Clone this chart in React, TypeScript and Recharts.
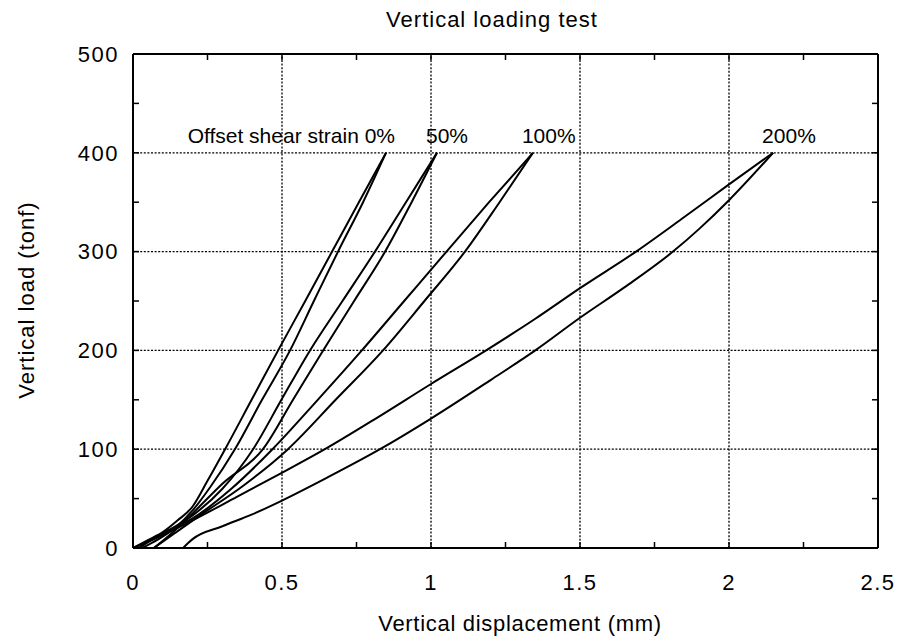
import React from 'react';
import { LineChart, Line, XAxis, YAxis, ReferenceLine, ReferenceDot, Label } from 'recharts';

const FONT = '"Liberation Sans", Arial, Helvetica, sans-serif';

const xTicks = [0, 0.25, 0.5, 0.75, 1, 1.25, 1.5, 1.75, 2, 2.25, 2.5];
const yTicks = [0, 50, 100, 150, 200, 250, 300, 350, 400, 450, 500];
const xGrid = [0.5, 1, 1.5, 2];
const yGrid = [100, 200, 300, 400];

// loading branch (lower / right side of each loop), origin -> 400 tonf
const load0: [number, number][] = [
  [0.03, 0], [0.08, 8], [0.14, 20], [0.2, 38], [0.26, 62], [0.342, 100], [0.433, 150],
  [0.527, 200], [0.607, 250], [0.688, 300], [0.772, 350], [0.849, 400],
];
// unloading branch (upper / left side), 400 tonf -> origin
const unload0: [number, number][] = [
  [0.849, 400], [0.758, 350], [0.668, 300], [0.578, 250], [0.487, 200], [0.398, 150],
  [0.309, 100], [0.25, 68], [0.2, 42], [0.15, 28], [0.1, 16], [0.05, 8], [0, 0],
];
const load50: [number, number][] = [
  [0.07, 0], [0.13, 15], [0.2, 35], [0.3, 65], [0.436, 100], [0.537, 150], [0.638, 200],
  [0.742, 250], [0.846, 300], [0.935, 350], [1.02, 400],
];
const unload50: [number, number][] = [
  [1.02, 400], [0.916, 350], [0.812, 300], [0.703, 250], [0.594, 200], [0.498, 150],
  [0.403, 100], [0.3, 60], [0.2, 33], [0.12, 18], [0.05, 7], [0, 0],
];
const load100: [number, number][] = [
  [0.07, 0], [0.14, 15], [0.22, 32], [0.37, 63], [0.52, 100], [0.68, 150], [0.839, 200],
  [0.978, 250], [1.114, 300], [1.23, 350], [1.342, 400],
];
const unload100: [number, number][] = [
  [1.342, 400], [1.195, 350], [1.052, 300], [0.91, 250], [0.768, 200], [0.62, 150],
  [0.468, 100], [0.33, 60], [0.2, 30], [0.12, 18], [0.05, 6], [0.02, 0],
];
const load200: [number, number][] = [
  [0.168, 0], [0.185, 5], [0.2, 9], [0.3, 22], [0.4, 34], [0.493, 47], [0.65, 71],
  [0.829, 100], [1.0, 131], [1.2, 170], [1.35, 200], [1.5, 233], [1.65, 264],
  [1.812, 300], [1.9, 323], [2.0, 352], [2.148, 400],
];
const unload200: [number, number][] = [
  [2.148, 400], [2.0, 368], [1.85, 335], [1.688, 300], [1.5, 263], [1.35, 232],
  [1.185, 200], [1.0, 166], [0.82, 132], [0.644, 100], [0.493, 75], [0.35, 52],
  [0.2, 28], [0.12, 16], [0.05, 6], [0, 0],
];

const loops = [
  [load0, unload0],
  [load50, unload50],
  [load100, unload100],
  [load200, unload200],
];
const loopLabels = ['Offset shear strain 0%', '50%', '100%', '200%'];

// sort each branch by displacement so the monotone curve stays well-behaved
const toPoints = (branch: [number, number][]) =>
  [...branch].sort((a, b) => a[0] - b[0]).map(([x, y]) => ({ x, y }));

const peakOf = (branch: [number, number][]) =>
  branch.reduce((best, p) => (p[1] > best[1] ? p : best), branch[0]);

const majorX = (v: number) => (Math.abs(v * 2 - Math.round(v * 2)) < 1e-9 ? String(v) : '');
const majorY = (v: number) => (v % 100 === 0 ? String(v) : '');

const tickStyle = { fill: '#000', fontSize: 22, fontFamily: FONT, letterSpacing: 1.5 };
const frame = { stroke: '#000', strokeWidth: 2 };
const tickLn = { stroke: '#000', strokeWidth: 1.5 };

export default function App() {
  return (
    <LineChart
      width={890}
      height={632}
      margin={{ top: 45, right: 19, bottom: 32, left: 0 }}
    >
      <XAxis
        xAxisId="b"
        type="number"
        dataKey="x"
        domain={[0, 2.5]}
        ticks={xTicks}
        tickFormatter={majorX}
        interval={0}
        allowDataOverflow
        height={60}
        tickSize={-6}
        tickMargin={32}
        tick={tickStyle}
        axisLine={frame}
        tickLine={tickLn}
      >
        <Label
          content={() => (
            <text x={512} y={623} textAnchor="middle" fontSize={22} letterSpacing={0.7}
              fontFamily={FONT} fill="#000">
              Vertical displacement (mm)
            </text>
          )}
        />
      </XAxis>
      <XAxis
        xAxisId="t"
        orientation="top"
        type="number"
        dataKey="x"
        domain={[0, 2.5]}
        ticks={xTicks}
        tickFormatter={() => ''}
        interval={0}
        allowDataOverflow
        height={1}
        tickSize={-6}
        axisLine={frame}
        tickLine={tickLn}
      >
        <Label
          content={() => (
            <text x={484} y={19} textAnchor="middle" fontSize={22} letterSpacing={1}
              fontFamily={FONT} fill="#000">
              Vertical loading test
            </text>
          )}
        />
      </XAxis>
      <YAxis
        yAxisId="l"
        type="number"
        dataKey="y"
        domain={[0, 500]}
        ticks={yTicks}
        tickFormatter={majorY}
        interval={0}
        allowDataOverflow
        width={125}
        tickSize={-6}
        tickMargin={20}
        tick={tickStyle}
        axisLine={frame}
        tickLine={tickLn}
      >
        <Label
          content={() => (
            <text
              x={26}
              y={292}
              transform="rotate(-90, 26, 292)"
              textAnchor="middle"
              fontSize={22}
              letterSpacing={1}
              fontFamily={FONT}
              fill="#000"
            >
              Vertical load (tonf)
            </text>
          )}
        />
      </YAxis>
      <YAxis
        yAxisId="r"
        orientation="right"
        type="number"
        domain={[0, 500]}
        ticks={yTicks}
        tickFormatter={() => ''}
        interval={0}
        allowDataOverflow
        width={1}
        tickSize={-6}
        axisLine={frame}
        tickLine={tickLn}
      />

      {xGrid.map((v) => (
        <ReferenceLine
          key={'gx' + v}
          xAxisId="b"
          yAxisId="l"
          x={v}
          stroke="#000"
          strokeWidth={1.3}
          strokeDasharray="2 1.6"
        />
      ))}
      {yGrid.map((v) => (
        <ReferenceLine
          key={'gy' + v}
          xAxisId="b"
          yAxisId="l"
          y={v}
          stroke="#000"
          strokeWidth={1.3}
          strokeDasharray="2 1.6"
        />
      ))}

      {loops.map((pair, i) =>
        pair.map((branch, j) => (
          <Line
            key={loopLabels[i] + j}
            xAxisId="b"
            yAxisId="l"
            data={toPoints(branch)}
            dataKey="y"
            type="monotone"
            stroke="#000"
            strokeWidth={2}
            dot={false}
            activeDot={false}
            isAnimationActive={false}
          />
        ))
      )}

      {loops.map((pair, i) => {
        const [px, py] = peakOf(pair[0]);
        const first = i === 0;
        return (
          <ReferenceDot
            key={'lab' + i}
            xAxisId="b"
            yAxisId="l"
            x={px}
            y={py}
            r={0}
            stroke="none"
            fill="none"
            label={(props: any) => {
              const vb = props.viewBox || {};
              const cx = (vb.x ?? 0) + (vb.width ?? 0) / 2;
              const cy = (vb.y ?? 0) + (vb.height ?? 0) / 2;
              return (
                <text
                  x={first ? cx + 9 : cx - 11}
                  y={cy - 10}
                  textAnchor={first ? 'end' : 'start'}
                  fontSize={21}
                  fontFamily={FONT}
                  fill="#000"
                >
                  {loopLabels[i]}
                </text>
              );
            }}
          />
        );
      })}
    </LineChart>
  );
}
